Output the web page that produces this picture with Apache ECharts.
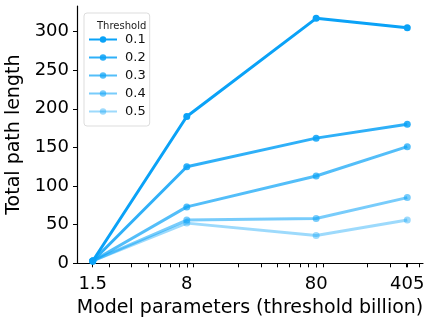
<!DOCTYPE html>
<html>
<head>
<meta charset="utf-8">
<script src="https://cdn.jsdelivr.net/npm/echarts@6/dist/echarts.min.js"></script>
<style>html,body{margin:0;padding:0;background:#fff}#c{width:432px;height:324px}</style>
</head>
<body>
<div id="c"></div>
<script>
// ---- data ----
const params = [1.5, 8, 80, 405];               // model parameters (billion)
const tickLabels = ['1.5', '8', '80', '405'];
const minorTicks = [2,3,4,5,6,7,8,9,20,30,40,50,60,70,80,90,200,300,400,500];
const thresholds = ['0.1', '0.2', '0.3', '0.4', '0.5'];
const t01 = [3, 190, 317, 305];
const t02 = [3, 125, 162, 180];
const t03 = [3, 73, 113, 151];
const t04 = [3, 56, 58, 85];
const t05 = [3, 52, 36, 56];
const yTicks = [0, 50, 100, 150, 200, 250, 300];

const seriesValues = [t01, t02, t03, t04, t05];
const alphas = [1, 0.85, 0.7, 0.55, 0.4];
const base = [10, 162, 247];

const L = v => Math.log10(v);
const lmin = L(params[0]), lmax = L(params[params.length - 1]);
const pad = (lmax - lmin) * 0.05;
const majorLog = params.map(L);

const font = 'DejaVu Sans';
const chart = echarts.init(document.getElementById('c'), null, {renderer: 'canvas'});

const series = thresholds.map((name, i) => {
  const col = `rgba(${base[0]},${base[1]},${base[2]},${alphas[i]})`;
  return {
    name: name,
    type: 'line',
    data: params.map((p, j) => [L(p), seriesValues[i][j]]),
    symbol: 'circle',
    symbolSize: 7,
    lineStyle: {width: 3, color: col},
    itemStyle: {color: col},
    z: 10 - i,
    animation: false
  };
});

chart.setOption({
  animation: false,
  backgroundColor: '#fff',
  grid: {left: 77, right: 9, top: 6, bottom: 60.7, containLabel: false, outerBoundsMode: 'none'},
  title: {
    text: 'Threshold', left: 92, top: 16,
    textStyle: {fontFamily: font, fontSize: 10, fontWeight: 'normal', color: '#222'}
  },
  legend: {
    data: thresholds,
    orient: 'vertical',
    left: 84, top: 13,
    padding: [20, 4, 8, 4],
    itemWidth: 28, itemHeight: 8, itemGap: 5,
    backgroundColor: '#fff',
    borderColor: '#dddddd', borderWidth: 1, borderRadius: 3,
    textStyle: {fontFamily: font, fontSize: 13, color: '#111', padding: [0, 0, 0, 3]}
  },
  xAxis: {
    type: 'value',
    min: lmin - pad, max: lmax + pad,
    splitLine: {show: false},
    axisLine: {show: true, lineStyle: {color: '#000', width: 1.2}},
    axisTick: {show: true, length: 4, lineStyle: {color: '#000', width: 1},
      customValues: majorLog.concat(minorTicks.map(L))},
    axisLabel: {
      customValues: majorLog,
      fontFamily: font, fontSize: 18, color: '#000', margin: 12,
      formatter: v => {
        let best = 0;
        majorLog.forEach((m, k) => { if (Math.abs(m - v) < Math.abs(majorLog[best] - v)) best = k; });
        return tickLabels[best];
      }
    },
    name: 'Model parameters (threshold billion)',
    nameLocation: 'middle', nameGap: 33,
    nameTextStyle: {fontFamily: font, fontSize: 19, color: '#000'}
  },
  yAxis: {
    type: 'value',
    min: 0, max: 333,
    splitLine: {show: false},
    axisLine: {show: true, lineStyle: {color: '#000', width: 1.2}},
    axisTick: {show: true, length: 4, lineStyle: {color: '#000', width: 1}, customValues: yTicks},
    axisLabel: {customValues: yTicks, fontFamily: font, fontSize: 18, color: '#000', margin: 8},
    name: 'Total path length',
    nameLocation: 'middle', nameGap: 48,
    nameTextStyle: {fontFamily: font, fontSize: 19, color: '#000'}
  },
  series: series
});
</script>
</body>
</html>
